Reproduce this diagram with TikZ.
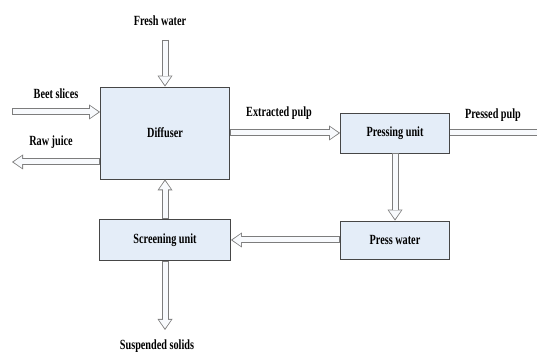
\documentclass[tikz,border=0pt]{standalone}
\usepackage{fontspec}
\setmainfont{Liberation Serif}[FakeStretch=0.73]
\usetikzlibrary{arrows.meta}

\definecolor{boxfill}{RGB}{228,237,248}
\definecolor{boxline}{RGB}{70,70,70}
\definecolor{flowline}{RGB}{125,125,125}
\definecolor{flowfill}{RGB}{248,250,253}

\tikzset{
  unit/.style={draw=boxline, fill=boxfill, line width=0.8pt, inner sep=0pt,
    font=\bfseries\fontsize{14}{16}\selectfont},
  lbl/.style={inner sep=0pt, font=\bfseries\fontsize{14}{16}\selectfont},
  flow/.style={draw=flowline, line width=7pt,
    -{Triangle[length=11pt,width=15pt,line width=0pt]},
    postaction={draw=flowfill, line width=5pt, shorten <=1pt, shorten >=1.6pt,
      -{Triangle[length=8.5pt,width=12pt,line width=0pt]}}},
  pipe/.style={draw=flowline, line width=7pt,
    postaction={draw=flowfill, line width=5pt}}
}

\begin{document}
\begin{tikzpicture}[x=1pt,y=1pt]
  \useasboundingbox (0,0) rectangle (537,352);
  % process units
  \node[unit, minimum width=129pt, minimum height=92pt] (diffuser) at (165,219) {Diffuser};
  \node[unit, minimum width=109pt, minimum height=40pt] (pressing) at (395,219) {Pressing unit};
  \node[unit, minimum width=109pt, minimum height=38pt] (presswater) at (395,112) {Press water};
  \node[unit, minimum width=131pt, minimum height=41pt] (screening) at (165,112) {Screening unit};
  % stream labels
  \node[lbl] (fresh) at (160,331) {Fresh water};
  \node[lbl] (beet) at (56,258) {Beet slices};
  \node[lbl] (raw) at (51,210) {Raw juice};
  \node[lbl] (extracted) at (279,239) {Extracted pulp};
  \node[lbl] (pressed) at (493,237) {Pressed pulp};
  \node[lbl] (solids) at (157,6) {Suspended solids};
  % free ends
  \coordinate (freshend) at (165,312);
  \coordinate (beetend) at (12,240);
  \coordinate (rawend) at (12,190);
  \coordinate (pressedend) at (537,219);
  \coordinate (solidsend) at (165,22);
  % streams
  \draw[flow] (freshend) -- (diffuser.north);
  \draw[flow] (beetend) -- (beetend -| diffuser.west);
  \draw[flow] (rawend -| diffuser.west) -- (rawend);
  \draw[flow] (diffuser) -- (pressing);
  \draw[pipe] (pressing.east) -- (pressedend);
  \draw[flow] (pressing) -- (presswater);
  \draw[flow] (presswater) -- (screening);
  \draw[flow] (screening) -- (diffuser);
  \draw[flow] (screening.south) -- (solidsend);
\end{tikzpicture}
\end{document}
